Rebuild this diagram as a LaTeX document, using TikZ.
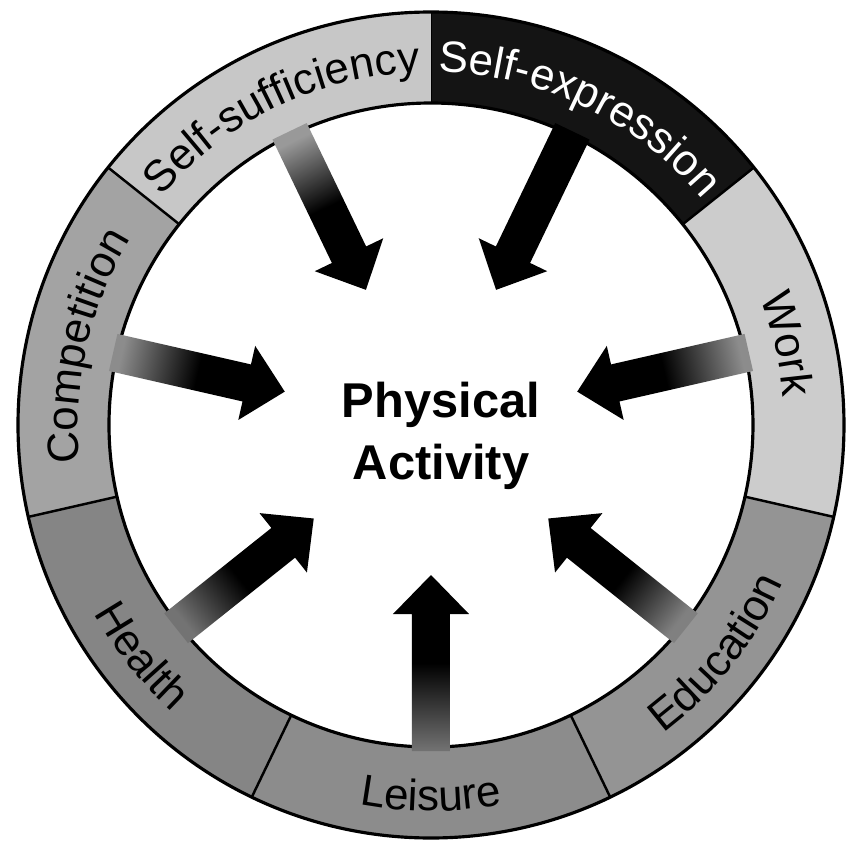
\documentclass[tikz,border=0pt]{standalone}
\usepackage{fontspec}
\setmainfont{Liberation Sans}
\usetikzlibrary{decorations.text}

\newcommand{\labfont}{\fontsize{12.5}{15}\selectfont}

\begin{document}
\begin{tikzpicture}[
    ring/.style={line width=0.9pt},
    lab/.style={decorate, decoration={text along path, text align=center, text={|\labfont|#1}}},
    labw/.style={decorate, decoration={text along path, text align=center, text color=white, text={|\labfont|#1}}}
]
    \useasboundingbox (-4.31,-4.23) rectangle (4.17,4.25);
    % ring segments, clockwise from the top
    \foreach \col [count=\i from 0] in {black!92, black!20, black!42, black!45, black!48, black!36, black!22} {
        \pgfmathsetmacro{\a}{90-\i*360/7}
        \pgfmathsetmacro{\b}{\a-360/7}
        \fill[\col] (\a:4.13) arc[start angle=\a, end angle=\b, radius=4.13]
            -- (\b:3.22) arc[start angle=\b, end angle=\a, radius=3.22] -- cycle;
        \draw[line width=0.7pt] (\a:3.22) -- (\a:4.13);
    }
    \draw[ring] (0,0) circle (4.13);
    \draw[ring] (0,0) circle (3.22);
    % labels
    \path[labw={Self-expression}] (90:3.53) arc[start angle=90, end angle=38.57, radius=3.53];
    \path[lab={Work}] (38.57:3.53) arc[start angle=38.57, end angle=-12.86, radius=3.53];
    \path[lab={Education}] (-64.29:3.86) arc[start angle=-64.29, end angle=-12.86, radius=3.86];
    \path[lab={Leisure}] (-115.71:3.86) arc[start angle=-115.71, end angle=-64.29, radius=3.86];
    \path[lab={Health}] (-167.14:3.86) arc[start angle=-167.14, end angle=-115.71, radius=3.86];
    \path[lab={Competition}] (192.86:3.53) arc[start angle=192.86, end angle=141.43, radius=3.53];
    \path[lab={Self-sufficiency}] (141.43:3.53) arc[start angle=141.43, end angle=90, radius=3.53];
    % arrows
    \foreach \a/\tc in {64.29/black, 12.86/black!45, -38.57/black!50, -90/black!55, -141.43/black!55, 167.14/black!45, 115.71/black!40} {
        \pgfmathsetmacro{\sa}{\a-90}
        \begin{scope}[rotate=\a]
            \shade[top color=\tc, bottom color=black, middle color=black, shading angle=\sa]
                (3.26,0.19) -- (1.89,0.19) -- (1.89,0.38) -- (1.5,0) -- (1.89,-0.38) -- (1.89,-0.19) -- (3.26,-0.19) -- cycle;
        \end{scope}
    }
    % centre
    \node[font=\bfseries\fontsize{13.9}{17.6}\selectfont, align=center] (pa) at (0.10,-0.11) {Physical\\Activity};
\end{tikzpicture}
\end{document}
